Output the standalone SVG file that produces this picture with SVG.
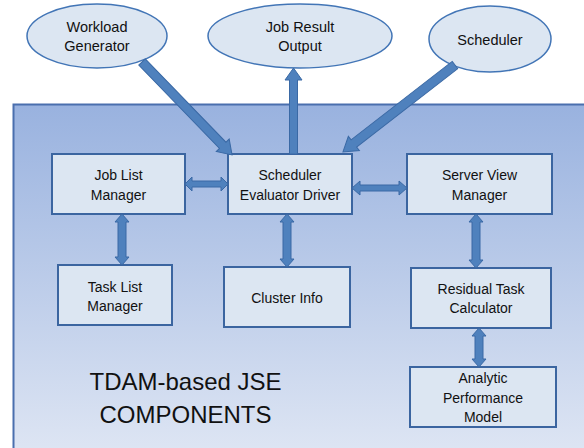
<svg xmlns="http://www.w3.org/2000/svg" width="584" height="448" viewBox="0 0 584 448">
  <defs>
    <linearGradient id="panelFill" x1="0" y1="0" x2="0" y2="1">
      <stop offset="0" stop-color="#99b2df"/>
      <stop offset="1" stop-color="#e0e7f4"/>
    </linearGradient>
  </defs>
  <style>
    .ell { fill: #dce6f2; stroke: #4275b6; stroke-width: 1.5; }
    .box { fill: #dce6f2; stroke: #3b65a0; stroke-width: 2; }
    .arr { fill: #4f81bd; stroke: #3a69a5; stroke-width: 1; stroke-linejoin: miter; }
    text { font-family: "Liberation Sans", Arial, sans-serif; font-size: 14px; fill: #111111; text-anchor: middle; }
    .lbl { font-size: 14.5px; }
    .big { font-size: 24px; }
  </style>

  <rect width="584" height="448" fill="#ffffff"/>

  <!-- system boundary panel -->
  <g id="panel">
    <rect x="13.5" y="104.5" width="580" height="360" fill="url(#panelFill)" stroke="#4a6fae" stroke-width="2"/>
    <text class="big" x="185.5" y="390">TDAM-based JSE</text>
    <text class="big" x="185.5" y="423">COMPONENTS</text>
  </g>

  <!-- external nodes -->
  <g id="workload-generator">
    <ellipse class="ell" cx="97" cy="36" rx="70" ry="32"/>
    <text class="lbl" x="97" y="32">Workload</text>
    <text class="lbl" x="97" y="51">Generator</text>
  </g>
  <g id="job-result-output">
    <ellipse class="ell" cx="300" cy="36" rx="92" ry="32"/>
    <text class="lbl" x="300" y="32">Job Result</text>
    <text class="lbl" x="300" y="51">Output</text>
  </g>
  <g id="scheduler">
    <ellipse class="ell" cx="490" cy="39" rx="61" ry="33"/>
    <text class="lbl" x="490" y="45">Scheduler</text>
  </g>

  <!-- internal components -->
  <g id="job-list-manager">
    <rect class="box" x="52" y="154" width="133" height="60"/>
    <text x="118.5" y="180">Job List</text>
    <text x="118.5" y="200">Manager</text>
  </g>
  <g id="scheduler-evaluator-driver">
    <rect class="box" x="228" y="154" width="124" height="60"/>
    <text x="290" y="180">Scheduler</text>
    <text x="290" y="200">Evaluator Driver</text>
  </g>
  <g id="server-view-manager">
    <rect class="box" x="407" y="154" width="145" height="60"/>
    <text x="479.5" y="180">Server View</text>
    <text x="479.5" y="200">Manager</text>
  </g>
  <g id="task-list-manager">
    <rect class="box" x="58" y="265" width="114" height="60"/>
    <text x="115" y="292">Task List</text>
    <text x="115" y="311">Manager</text>
  </g>
  <g id="cluster-info">
    <rect class="box" x="224" y="267" width="126" height="60"/>
    <text x="287" y="303">Cluster Info</text>
  </g>
  <g id="residual-task-calculator">
    <rect class="box" x="411" y="268" width="140" height="60"/>
    <text x="481" y="294">Residual Task</text>
    <text x="481" y="313">Calculator</text>
  </g>
  <g id="analytic-performance-model">
    <rect class="box" x="410" y="367" width="146" height="60"/>
    <text x="483" y="383">Analytic</text>
    <text x="483" y="403">Performance</text>
    <text x="483" y="422">Model</text>
  </g>

  <!-- connectors: block arrows, drawn along +x then placed -->
  <g id="connectors">
    <!-- Workload Generator -> Scheduler Evaluator Driver -->
    <polygon class="arr" transform="translate(142,62) rotate(45.9)" points="0,-4.5 116,-4.5 116,-9 129.4,0 116,9 116,4.5 0,4.5"/>
    <!-- Scheduler -> Scheduler Evaluator Driver -->
    <polygon class="arr" transform="translate(455,65) rotate(142.2)" points="0,-4.5 128,-4.5 128,-9 141.8,0 128,9 128,4.5 0,4.5"/>
    <!-- Scheduler Evaluator Driver -> Job Result Output -->
    <polygon class="arr" transform="translate(293.5,154) rotate(-90)" points="0,-4 74,-4 74,-8.5 86,0 74,8.5 74,4 0,4"/>

    <!-- Job List Manager <-> Scheduler Evaluator Driver -->
    <polygon class="arr" transform="translate(185,184)" points="0,0 7,-7 7,-3 36,-3 36,-7 43,0 36,7 36,3 7,3 7,7"/>
    <!-- Scheduler Evaluator Driver <-> Server View Manager -->
    <polygon class="arr" transform="translate(352,188)" points="0,0 8,-7 8,-3 47,-3 47,-7 55,0 47,7 47,3 8,3 8,7"/>
    <!-- Job List Manager <-> Task List Manager -->
    <polygon class="arr" transform="translate(122,214) rotate(90)" points="0,0 8,-7 8,-4 43,-4 43,-7 51,0 43,7 43,4 8,4 8,7"/>
    <!-- Scheduler Evaluator Driver <-> Cluster Info -->
    <polygon class="arr" transform="translate(287,214) rotate(90)" points="0,0 8,-7 8,-4 45,-4 45,-7 53,0 45,7 45,4 8,4 8,7"/>
    <!-- Server View Manager <-> Residual Task Calculator -->
    <polygon class="arr" transform="translate(476,214) rotate(90)" points="0,0 8,-7 8,-4 46,-4 46,-7 54,0 46,7 46,4 8,4 8,7"/>
    <!-- Residual Task Calculator <-> Analytic Performance Model -->
    <polygon class="arr" transform="translate(479,328) rotate(90)" points="0,0 8,-7 8,-4 31,-4 31,-7 39,0 31,7 31,4 8,4 8,7"/>
  </g>
</svg>
